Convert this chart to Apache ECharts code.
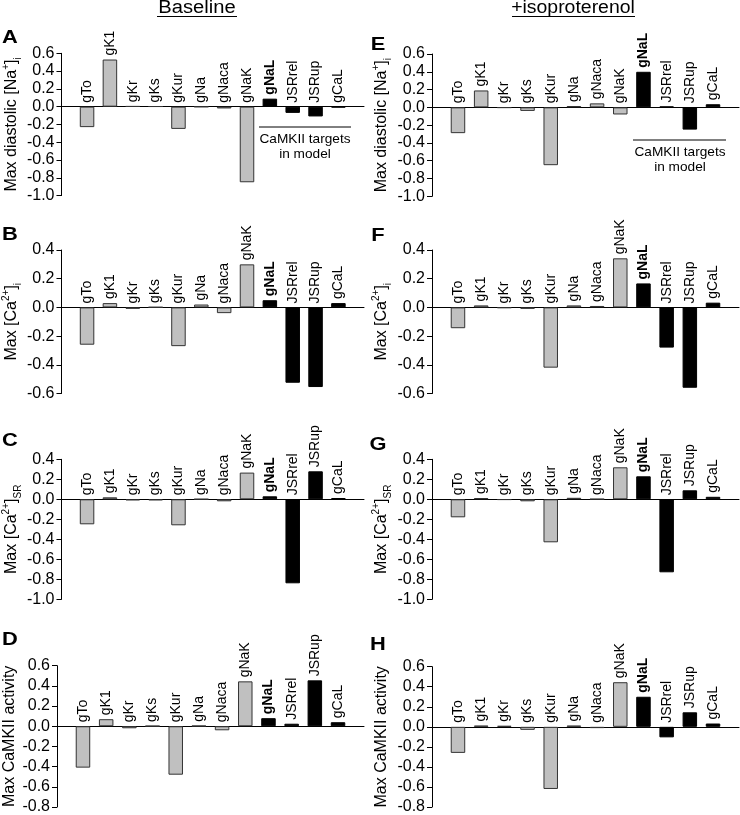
<!DOCTYPE html>
<html>
<head>
<meta charset="utf-8">
<script src="https://cdn.jsdelivr.net/npm/echarts@6/dist/echarts.min.js"></script>
<style>html,body{margin:0;padding:0;background:#fff;}#c{width:740px;height:815px;}</style>
</head>
<body>
<div id="c"></div>
<script>
// ---- data ----
const categories = ['gTo','gK1','gKr','gKs','gKur','gNa','gNaca','gNaK','gNaL','JSRrel','JSRup','gCaL'];
const baseNa     = [-0.23, 0.53, 0.005, 0.003, -0.25, -0.003, -0.02, -0.85, 0.09, -0.07, -0.11, -0.01];
const isoNa      = [-0.29, 0.19, -0.005, -0.04, -0.65, 0.015, 0.045, -0.08, 0.40, 0.01, -0.25, 0.035];
const baseCai    = [-0.26, 0.03, -0.01, 0.002, -0.27, 0.02, -0.04, 0.30, 0.05, -0.525, -0.555, 0.03];
const isoCai     = [-0.145, 0.014, -0.004, -0.01, -0.42, 0.014, 0.01, 0.342, 0.167, -0.28, -0.56, 0.033];
const baseCaSR   = [-0.25, 0.02, -0.01, -0.01, -0.26, 0.002, -0.02, 0.267, 0.03, -0.84, 0.28, 0.013];
const isoCaSR    = [-0.18, 0.013, -0.005, -0.02, -0.43, 0.015, 0.003, 0.32, 0.23, -0.73, 0.09, 0.025];
const baseCaMKII = [-0.41, 0.07, -0.02, 0.003, -0.48, 0.005, -0.04, 0.445, 0.08, 0.025, 0.455, 0.04];
const isoCaMKII  = [-0.26, 0.013, 0.01, -0.03, -0.62, 0.013, -0.013, 0.445, 0.30, -0.105, 0.145, 0.033];
const camkiiTargets = ['gNaL','JSRrel','JSRup','gCaL'];

const nameNa = '{a|Max diastolic [Na}{sup|+}{a|]}{sub|i}';
const nameCai = '{a|Max [Ca}{sup|2+}{a|]}{sub|i}';
const nameCaSR = '{a|Max [Ca}{sup|2+}{a|]}{sub|SR}';
const nameCaMKII = '{a|Max CaMKII activity}';

const FONT = "'Liberation Sans', Arial, Helvetica, sans-serif";

const panels = [
  {d: baseNa, min: -1.0, max: 0.6, name: nameNa, side: 0, top: 53.3, h: 142.3, letter: 'A', ly: 38},
  {d: baseCai, min: -0.6, max: 0.4, name: nameCai, side: 0, top: 250, h: 143.5, letter: 'B', ly: 235},
  {d: baseCaSR, min: -1.0, max: 0.4, name: nameCaSR, side: 0, top: 459.3, h: 140, letter: 'C', ly: 441},
  {d: baseCaMKII, min: -0.8, max: 0.6, name: nameCaMKII, side: 0, top: 665.7, h: 142.5, letter: 'D', ly: 640},
  {d: isoNa, min: -1.0, max: 0.6, name: nameNa, side: 1, top: 54, h: 142.3, letter: 'E', ly: 45},
  {d: isoCai, min: -0.6, max: 0.4, name: nameCai, side: 1, top: 250, h: 143.5, letter: 'F', ly: 236},
  {d: isoCaSR, min: -1.0, max: 0.4, name: nameCaSR, side: 1, top: 459.3, h: 140, letter: 'G', ly: 445},
  {d: isoCaMKII, min: -0.8, max: 0.6, name: nameCaMKII, side: 1, top: 666.7, h: 142.5, letter: 'H', ly: 645}
];

const grids = [], xAxes = [], yAxes = [], series = [], graphics = [];
panels.forEach((p, gi) => {
  const left = p.side === 0 ? 57 : 432;
  grids.push({left: left, top: p.top, width: 307, height: p.h});
  xAxes.push({type: 'value', gridIndex: gi, min: -1.12, max: 12.12,
    axisLine: {show: true, onZero: true, lineStyle: {color: '#000', width: 1}},
    axisTick: {show: false}, axisLabel: {show: false}, splitLine: {show: false}});
  yAxes.push({type: 'value', gridIndex: gi, min: p.min, max: p.max, interval: 0.2,
    axisLine: {show: true, onZero: false, lineStyle: {color: '#000', width: 1}},
    axisTick: {show: true, length: 5, lineStyle: {color: '#000', width: 1}},
    axisLabel: {color: '#000', fontSize: 16, fontFamily: FONT, margin: 7,
      formatter: v => (Math.abs(v) < 1e-9 ? 0 : v).toFixed(1)},
    splitLine: {show: false},
    name: p.name, nameLocation: 'middle', nameRotate: 90, nameGap: p.side === 0 ? 36 : 39,
    nameTextStyle: {color: '#000', fontFamily: FONT,
      rich: {
        a: {fontSize: 16, lineHeight: 22, fontFamily: FONT, color: '#000'},
        sup: {fontSize: 10, lineHeight: 12, verticalAlign: 'top', fontFamily: FONT, color: '#000'},
        sub: {fontSize: 10, lineHeight: 12, verticalAlign: 'bottom', fontFamily: FONT, color: '#000'}
      }}
  });
  series.push({type: 'bar', xAxisIndex: gi, yAxisIndex: gi, barWidth: 14.5, silent: true,
    data: p.d.map((v, i) => {
      const isT = camkiiTargets.indexOf(categories[i]) >= 0;
      return {value: [i, v], itemStyle: {color: isT ? '#000' : '#c0c0c0', borderColor: isT ? '#000' : '#333', borderWidth: 1}};
    })
  });
  series.push({type: 'scatter', xAxisIndex: gi, yAxisIndex: gi, symbolSize: 0, silent: true,
    itemStyle: {opacity: 1},
    data: p.d.map((v, i) => [i, Math.max(v, 0), categories[i]]),
    label: {show: true, position: 'top', distance: 4, rotate: 90, align: 'left', verticalAlign: 'middle',
      color: '#000', opacity: 1, fontSize: 14, fontFamily: FONT,
      formatter: q => q.value[2] === 'gNaL' ? '{b|gNaL}' : q.value[2],
      rich: {b: {fontWeight: 'bold', fontSize: 14, fontFamily: FONT, color: '#000'}}}
  });
  graphics.push({type: 'text', x: p.side === 0 ? 10 : 378, y: p.ly, scaleX: 1.15,
    style: {text: p.letter, font: 'bold 19px ' + FONT, fill: '#000', align: 'center', verticalAlign: 'middle'}});
});

graphics.push({type: 'text', x: 197, y: 8.5, scaleX: 1.12, style: {text: 'Baseline', font: '18px ' + FONT, fill: '#000', align: 'center', verticalAlign: 'middle'}});
graphics.push({type: 'line', shape: {x1: 157, y1: 16.5, x2: 237, y2: 16.5}, style: {stroke: '#000', lineWidth: 1}});
graphics.push({type: 'text', x: 573, y: 8.5, scaleX: 1.08, style: {text: '+isoproterenol', font: '18px ' + FONT, fill: '#000', align: 'center', verticalAlign: 'middle'}});
graphics.push({type: 'line', shape: {x1: 512, y1: 16.5, x2: 635, y2: 16.5}, style: {stroke: '#000', lineWidth: 1}});

[[259, 351, 127, 305, 139, 154], [633, 726, 140, 680, 152, 167]].forEach(a => {
  graphics.push({type: 'line', shape: {x1: a[0], y1: a[2], x2: a[1], y2: a[2]}, style: {stroke: '#000', lineWidth: 1}});
  graphics.push({type: 'text', x: a[3], y: a[4], scaleX: 1.05, style: {text: 'CaMKII targets', font: '13px ' + FONT, fill: '#000', align: 'center', verticalAlign: 'middle'}});
  graphics.push({type: 'text', x: a[3], y: a[5], scaleX: 1.05, style: {text: 'in model', font: '13px ' + FONT, fill: '#000', align: 'center', verticalAlign: 'middle'}});
});

const chart = echarts.init(document.getElementById('c'), null, {renderer: 'canvas'});
chart.setOption({
  animation: false,
  backgroundColor: '#fff',
  grid: grids, xAxis: xAxes, yAxis: yAxes, series: series, graphic: graphics
});
</script>
</body>
</html>
